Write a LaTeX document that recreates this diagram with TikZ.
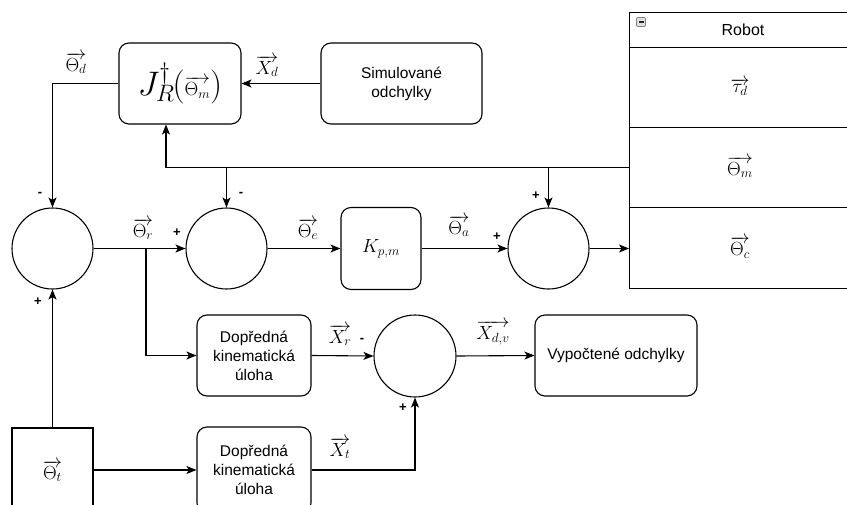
\RequirePackage{fix-cm}
\documentclass[tikz,border=0pt]{standalone}
\usepackage{fontspec}
\setmainfont{Liberation Sans}
\usetikzlibrary{arrows.meta}
\begin{document}
\begin{tikzpicture}[x=1pt,y=-1pt,
  line width=1.1pt,
  every node/.style={font=\fontsize{15.5}{19}\selectfont},
  rbox/.style={draw, rounded corners=10pt, align=center, inner sep=2pt},
  sbox/.style={draw, align=center, inner sep=2pt},
  sumc/.style={draw, circle, minimum size=81pt, inner sep=0pt},
  arr/.style={-{Stealth[length=10pt,width=8pt,inset=2.5pt]}},
  sgn/.style={font=\fontsize{13}{14}\selectfont\bfseries, inner sep=0pt},
  lbl/.style={inner sep=0pt, font=\fontsize{19}{21}\selectfont}]
\useasboundingbox (0,0) rectangle (847,504);
\begin{scope}
\clip (0,0) rectangle (847,504);
% Robot table
\node[draw, minimum width=230pt, minimum height=35pt, inner sep=0pt, anchor=north west] (rh) at (629,12) {};
\node[draw, minimum width=230pt, minimum height=80pt, inner sep=0pt, anchor=north west] (tau) at (629,47) {};
\node[draw, minimum width=230pt, minimum height=80pt, inner sep=0pt, anchor=north west] (thm) at (629,127) {};
\node[draw, minimum width=230pt, minimum height=81pt, inner sep=0pt, anchor=north west] (thc) at (629,207) {};
\node[font=\fontsize{16}{18}\selectfont] at (743,29.5) {Robot};
\node[lbl] at (740,87) {$\overrightarrow{\tau_d}$};
\node[lbl] at (740,167) {$\overrightarrow{\Theta_m}$};
\node[lbl] at (740,247.5) {$\overrightarrow{\Theta_c}$};
\node[draw=gray, fill=gray!25, line width=0.6pt, rounded corners=1pt, minimum size=9pt, inner sep=0pt] (ic) at (641,22) {};
\draw[line width=1.2pt, gray!30!black] ([xshift=-2.5pt]ic.center) -- ([xshift=2.5pt]ic.center);
% bottom boxes (cut by the page edge)
\node[sbox, minimum width=81pt, minimum height=86pt] (t) at (52.5,471) {};
\node[rbox, minimum width=114pt, minimum height=86pt] (f2) at (254,470) {Dopředná\\kinematická\\úloha};
\end{scope}
\node[lbl] at (t.center) {$\overrightarrow{\Theta_t}$};
% upper boxes
\node[rbox, minimum width=122pt, minimum height=81pt] (J) at (180,83.5) {\fontsize{34}{36}\selectfont$J^{\dagger}_{R}$\kern-2pt$($\fontsize{19}{21}\selectfont$\overrightarrow{\Theta_m}$\fontsize{34}{36}\selectfont$)$};
\node[rbox, minimum width=161pt, minimum height=81pt] (sim) at (401.5,83.5) {Simulované\\odchylky};
\node[sumc] (c1) at (52.5,248.5) {};
\node[sumc] (c2) at (226.5,248.5) {};
\node[rbox, minimum width=80pt, minimum height=82pt, font=\fontsize{19}{21}\selectfont] (K) at (381,248.5) {$K_{p,m}$};
\node[sumc] (c3) at (548.5,248.5) {};
\node[rbox, minimum width=114pt, minimum height=81pt] (f1) at (254,355.5) {Dopředná\\kinematická\\úloha};
\node[sumc, minimum size=82pt] (c4) at (415,356) {};
\node[rbox, minimum width=162pt, minimum height=81pt] (v) at (616,355.5) {Vypočtené odchylky};
% connectors
\draw[arr] (sim.west) -- (J.east);
\draw[arr] (J.west) -| (c1.north);
\draw[arr] (thm.west) -| ([xshift=-14pt]J.south);
\draw[arr] (c2.north |- thm.west) -- (c2.north);
\draw[arr] (c3.north |- thm.west) -- (c3.north);
\draw[arr] (c1.east) -- (c2.west);
\coordinate (br) at (146,248.5);
\draw[arr] (br) |- (f1.west);
\draw[arr] (c2.east) -- (K.west);
\draw[arr] (K.east) -- (c3.west);
\draw[arr] (c3.east) -- (c3.east -| thc.west);
\draw[arr] (t.north) -- (c1.south);
\draw[arr] (t.east |- f2.west) -- (f2.west);
\draw[arr] (f1.east) -- (c4.west);
\draw[arr] (f2.east) -| (c4.south);
\draw[arr] (c4.east) -- (v.west);
% labels
\node[lbl] at (76,63) {$\overrightarrow{\Theta_d}$};
\node[lbl] at (267,66) {$\overrightarrow{X_d}$};
\node[lbl] at (143,229) {$\overrightarrow{\Theta_r}$};
\node[lbl] at (308,229) {$\overrightarrow{\Theta_e}$};
\node[lbl] at (459,226) {$\overrightarrow{\Theta_a}$};
\node[lbl] at (340,335) {$\overrightarrow{X_r}$};
\node[lbl] at (493,333) {$\overrightarrow{X_{d,v}}$};
\node[lbl] at (340,448) {$\overrightarrow{X_t}$};
% signs
\node[sgn] at (40,194) {-};
\node[sgn] at (241,194) {-};
\node[sgn] at (38,302) {+};
\node[sgn] at (177,233) {+};
\node[sgn] at (497,237) {+};
\node[sgn] at (536,196) {+};
\node[sgn] at (362,340) {-};
\node[sgn] at (403,408) {+};
\end{tikzpicture}
\end{document}
